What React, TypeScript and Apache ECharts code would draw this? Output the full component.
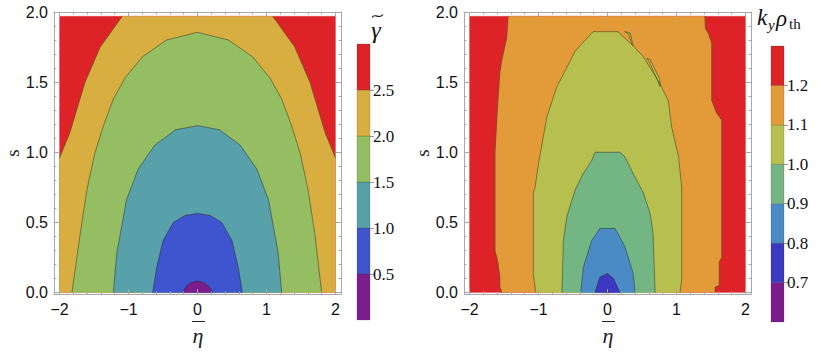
import React, { useEffect, useRef } from 'react';
import * as echarts from 'echarts';

// ---------- tick / legend data ----------
const etaTicks = [-2, -1, 0, 1, 2];
const etaMinorTicks = [-1.8, -1.6, -1.4, -1.2, -0.8, -0.6, -0.4, -0.2, 0.2, 0.4, 0.6, 0.8, 1.2, 1.4, 1.6, 1.8];
const sTicks = [0, 0.5, 1, 1.5, 2];
const sMinorTicks = [0.1, 0.2, 0.3, 0.4, 0.6, 0.7, 0.8, 0.9, 1.1, 1.2, 1.3, 1.4, 1.6, 1.7, 1.8, 1.9];

const gammaLevels = [0.5, 1.0, 1.5, 2.0, 2.5];
const gammaBarRange = [0, 3];
const gammaColors = ['#7b1d8c', '#3f54cf', '#58a0aa', '#95bd62', '#d9ae40', '#dd2327'];

const kyLevels = [0.7, 0.8, 0.9, 1.0, 1.1, 1.2];
const kyBarRange = [0.6, 1.3];
const kyColors = ['#7a1c8b', '#3b38c1', '#4a8ac5', '#74b683', '#b7bf4f', '#e39b3a', '#dd2327'];

// data domain (eta, s)
const domainEta = [-2, 2];
const domainS = [0, 1.97];

// ---------- left panel: gamma~ contours, points [eta, s] ----------
const gammaC25Left = [[-2, 0.96], [-1.85, 1.14], [-1.63, 1.5], [-1.41, 1.75], [-1.09, 1.97]];
const gammaC25Right = [[1.09, 1.97], [1.41, 1.75], [1.63, 1.5], [1.85, 1.14], [2, 0.96]];
const gammaC20 = [[-1.82, 0], [-1.7, 0.42], [-1.6, 0.74], [-1.49, 0.99], [-1.37, 1.18], [-1.22, 1.38], [-1.05, 1.53], [-0.8, 1.68], [-0.45, 1.8], [0, 1.855], [0.45, 1.8], [0.8, 1.68], [1.05, 1.53], [1.22, 1.38], [1.37, 1.18], [1.49, 0.99], [1.6, 0.74], [1.7, 0.42], [1.8, 0]];
const gammaC15 = [[-1.22, 0], [-1.17, 0.28], [-1.03, 0.66], [-0.86, 0.88], [-0.62, 1.05], [-0.32, 1.16], [0, 1.19], [0.32, 1.16], [0.62, 1.05], [0.86, 0.88], [1.03, 0.66], [1.17, 0.28], [1.22, 0]];
const gammaC10 = [[-0.65, 0], [-0.59, 0.18], [-0.5, 0.37], [-0.35, 0.5], [-0.18, 0.55], [0, 0.564], [0.18, 0.55], [0.35, 0.5], [0.5, 0.37], [0.59, 0.18], [0.65, 0]];
const gammaC05 = [[-0.21, 0], [-0.17, 0.04], [-0.1, 0.07], [0, 0.082], [0.1, 0.07], [0.17, 0.04], [0.22, 0]];

// ---------- right panel: k_y rho_th contours ----------
const kyC12Left = [[-1.53, 0], [-1.56, 0.04], [-1.56, 0.11], [-1.59, 0.22], [-1.63, 0.3], [-1.63, 1.0], [-1.6, 1.27], [-1.56, 1.57], [-1.53, 1.66], [-1.46, 1.82], [-1.44, 1.97]];
const kyC12Right = [[1.41, 1.97], [1.42, 1.88], [1.46, 1.85], [1.51, 1.78], [1.51, 1.37], [1.58, 1.28], [1.655, 1.23], [1.655, 0.25], [1.62, 0.22], [1.62, 0.05], [1.56, 0.04], [1.56, 0]];
const kyC11 = [[-1.04, 0], [-1.075, 0.13], [-1.075, 0.71], [-1.05, 0.75], [-1.0, 0.92], [-0.88, 1.25], [-0.74, 1.46], [-0.47, 1.72], [-0.21, 1.86], [0.15, 1.86], [0.37, 1.76], [0.52, 1.68], [0.76, 1.49], [0.88, 1.37], [0.93, 1.18], [1.03, 0.97], [1.075, 0.75], [1.075, 0.09], [1.05, 0]];
const kyC10 = [[-0.66, 0], [-0.64, 0.37], [-0.59, 0.54], [-0.47, 0.73], [-0.35, 0.85], [-0.23, 0.94], [-0.18, 1.0], [0.18, 1.0], [0.25, 0.97], [0.37, 0.85], [0.52, 0.71], [0.62, 0.56], [0.66, 0.42], [0.69, 0]];
const kyC09 = [[-0.39, 0], [-0.35, 0.18], [-0.23, 0.37], [-0.11, 0.457], [0.11, 0.457], [0.25, 0.33], [0.37, 0.14], [0.4, 0]];
const kyC08 = [[-0.18, 0], [-0.11, 0.11], [0, 0.136], [0.085, 0.1], [0.18, 0]];
const kyC07 = [[-0.03, 0], [0, 0.015], [0.03, 0]];
const kySliverA = [[0.25, 1.86], [0.33, 1.85], [0.37, 1.76], [0.35, 1.77], [0.31, 1.84], [0.25, 1.86]];
const kySliverB = [[0.57, 1.67], [0.62, 1.66], [0.76, 1.52], [0.76, 1.47], [0.72, 1.52], [0.6, 1.65], [0.57, 1.67]];

// ---------- layout ----------
const X_MIN = -2.08;
const X_MAX = 2.08;
const Y_MIN = -0.01;
const Y_MAX = 2.0;
const frameColor = '#a8a8a8';
const lineColor = 'rgba(45,40,30,0.6)';
const sansFont = '"Liberation Sans", Arial, sans-serif';
const serifFont = '"Liberation Serif", "Times New Roman", serif';

type Shape = { points: number[][]; fill?: string; stroke?: boolean };

const rectPoly = [
  [domainEta[0], domainS[0]],
  [domainEta[1], domainS[0]],
  [domainEta[1], domainS[1]],
  [domainEta[0], domainS[1]],
];

const leftShapes: Shape[] = [
  { points: rectPoly, fill: gammaColors[5] },
  { points: [[domainEta[0], 0], ...gammaC25Left, ...gammaC25Right, [domainEta[1], 0]], fill: gammaColors[4] },
  { points: gammaC20, fill: gammaColors[3] },
  { points: gammaC15, fill: gammaColors[2] },
  { points: gammaC10, fill: gammaColors[1] },
  { points: gammaC05, fill: gammaColors[0] },
  { points: gammaC25Left, stroke: true },
  { points: gammaC25Right, stroke: true },
  { points: gammaC20, stroke: true },
  { points: gammaC15, stroke: true },
  { points: gammaC10, stroke: true },
  { points: gammaC05, stroke: true },
];

const rightShapes: Shape[] = [
  { points: rectPoly, fill: kyColors[6] },
  { points: [...kyC12Left, ...kyC12Right], fill: kyColors[5] },
  { points: kyC11, fill: kyColors[4] },
  { points: kyC10, fill: kyColors[3] },
  { points: kyC09, fill: kyColors[2] },
  { points: kyC08, fill: kyColors[1] },
  { points: kyC07, fill: kyColors[0] },
  { points: kySliverA, fill: kyColors[4] },
  { points: kySliverB, fill: kyColors[4] },
  { points: kyC12Left, stroke: true },
  { points: kyC12Right, stroke: true },
  { points: kyC11, stroke: true },
  { points: kyC10, stroke: true },
  { points: kyC09, stroke: true },
  { points: kyC08, stroke: true },
  { points: kySliverA, stroke: true },
  { points: kySliverB, stroke: true },
];

const fmtEta = (v: number) => (v < 0 ? '\u2212' + Math.abs(v) : String(v));
const fmt1 = (v: number) => Number(v).toFixed(1);

function frameXAxes(grid: number) {
  const base = {
    type: 'value',
    min: X_MIN,
    max: X_MAX,
    z: 10,
    splitLine: { show: false },
  };
  return [
    {
      ...base,
      gridIndex: grid,
      position: 'bottom',
      axisLine: { show: true, onZero: false, lineStyle: { color: frameColor, width: 1 } },
      axisTick: { show: true, inside: true, length: 5, customValues: etaTicks, lineStyle: { color: frameColor } },
      axisLabel: { show: true, customValues: etaTicks, formatter: fmtEta, color: '#111', fontSize: 16, fontFamily: sansFont, margin: 7 },
    },
    {
      ...base,
      gridIndex: grid,
      position: 'top',
      axisLine: { show: true, onZero: false, lineStyle: { color: frameColor, width: 1 } },
      axisTick: { show: true, inside: true, length: 5, customValues: etaTicks, lineStyle: { color: frameColor } },
      axisLabel: { show: false },
    },
    {
      ...base,
      gridIndex: grid + 1,
      position: 'bottom',
      axisLine: { show: false, onZero: false },
      axisTick: { show: true, inside: true, length: 2.5, customValues: etaMinorTicks, lineStyle: { color: frameColor } },
      axisLabel: { show: false },
    },
    {
      ...base,
      gridIndex: grid + 1,
      position: 'top',
      axisLine: { show: false, onZero: false },
      axisTick: { show: true, inside: true, length: 2.5, customValues: etaMinorTicks, lineStyle: { color: frameColor } },
      axisLabel: { show: false },
    },
  ];
}

function frameYAxes(grid: number) {
  const base = {
    type: 'value',
    min: Y_MIN,
    max: Y_MAX,
    z: 10,
    splitLine: { show: false },
  };
  return [
    {
      ...base,
      gridIndex: grid,
      position: 'left',
      name: 's',
      nameLocation: 'middle',
      nameRotate: 90,
      nameGap: 31,
      nameTextStyle: { fontFamily: serifFont, fontSize: 19, color: '#222' },
      axisLine: { show: true, onZero: false, lineStyle: { color: frameColor, width: 1 } },
      axisTick: { show: true, inside: true, length: 5, customValues: sTicks, lineStyle: { color: frameColor } },
      axisLabel: { show: true, customValues: sTicks, formatter: fmt1, color: '#111', fontSize: 16, fontFamily: sansFont, margin: 6 },
    },
    {
      ...base,
      gridIndex: grid,
      position: 'right',
      axisLine: { show: true, onZero: false, lineStyle: { color: frameColor, width: 1 } },
      axisTick: { show: true, inside: true, length: 5, customValues: sTicks, lineStyle: { color: frameColor } },
      axisLabel: { show: false },
    },
    {
      ...base,
      gridIndex: grid + 1,
      position: 'left',
      axisLine: { show: false, onZero: false },
      axisTick: { show: true, inside: true, length: 2.5, customValues: sMinorTicks, lineStyle: { color: frameColor } },
      axisLabel: { show: false },
    },
    {
      ...base,
      gridIndex: grid + 1,
      position: 'right',
      axisLine: { show: false, onZero: false },
      axisTick: { show: true, inside: true, length: 2.5, customValues: sMinorTicks, lineStyle: { color: frameColor } },
      axisLabel: { show: false },
    },
  ];
}

function contourSeries(shapes: Shape[], axisIndex: number) {
  return {
    type: 'custom',
    coordinateSystem: 'cartesian2d',
    xAxisIndex: axisIndex,
    yAxisIndex: axisIndex,
    silent: true,
    clip: true,
    data: shapes.map((sh) => sh.points[0]),
    renderItem: (params: any, api: any) => {
      const sh = shapes[params.dataIndex];
      const pts = sh.points.map((p) => api.coord(p));
      if (sh.stroke) {
        return {
          type: 'polyline',
          shape: { points: pts },
          style: { stroke: lineColor, lineWidth: 0.8, fill: null },
        };
      }
      return {
        type: 'polygon',
        shape: { points: pts },
        style: { fill: sh.fill, stroke: sh.fill, lineWidth: 0.3 },
      };
    },
  };
}

function barSeries(edges: number[], colors: string[], axisIndex: number) {
  const bands = colors.map((c, i) => [0, edges[i], edges[i + 1], i]);
  return {
    type: 'custom',
    coordinateSystem: 'cartesian2d',
    xAxisIndex: axisIndex,
    yAxisIndex: axisIndex,
    silent: true,
    data: bands,
    renderItem: (params: any, api: any) => {
      const lo = api.value(1);
      const hi = api.value(2);
      const idx = api.value(3);
      const p1 = api.coord([0, hi]);
      const p2 = api.coord([1, lo]);
      return {
        type: 'rect',
        shape: { x: p1[0], y: p1[1], width: p2[0] - p1[0], height: p2[1] - p1[1] },
        style: { fill: colors[idx], stroke: 'rgba(60,50,40,0.35)', lineWidth: 0.6 },
      };
    },
  };
}

function barAxes(grid: number, range: number[], levels: number[]) {
  return {
    x: {
      type: 'value',
      gridIndex: grid,
      min: 0,
      max: 1,
      show: false,
    },
    y: {
      type: 'value',
      gridIndex: grid,
      position: 'right',
      min: range[0],
      max: range[1],
      splitLine: { show: false },
      axisLine: { show: false, onZero: false },
      axisTick: { show: true, inside: false, length: 4, customValues: levels, lineStyle: { color: '#999' } },
      axisLabel: { show: true, customValues: levels, formatter: fmt1, color: '#111', fontSize: 17, fontFamily: serifFont, margin: 3 },
    },
  };
}

const gammaEdges = [gammaBarRange[0], ...gammaLevels, gammaBarRange[1]];
const kyEdges = [kyBarRange[0], ...kyLevels, kyBarRange[1]];

export default function App() {
  const ref = useRef<HTMLDivElement>(null);

  useEffect(() => {
    if (!ref.current) return;
    const chart = echarts.init(ref.current, undefined, { renderer: 'svg' });

    const gBar = barAxes(4, gammaBarRange, gammaLevels);
    const kBar = barAxes(5, kyBarRange, kyLevels);

    const xAxes = [...frameXAxes(0), ...frameXAxes(2), gBar.x, kBar.x];
    const yAxes = [...frameYAxes(0), ...frameYAxes(2), gBar.y, kBar.y];

    const etaLabel = (cx: number) => [
      {
        type: 'text',
        x: cx,
        y: 335,
        style: { text: 'η', font: `italic 22px ${serifFont}`, fill: '#222', align: 'center', verticalAlign: 'middle' },
      },
      {
        type: 'line',
        shape: { x1: cx - 6, y1: 321.5, x2: cx + 7, y2: 321.5 },
        style: { stroke: '#222', lineWidth: 1 },
      },
    ];

    chart.setOption({
      animation: false,
      backgroundColor: '#ffffff',
      grid: [
        { left: 54, top: 12, width: 287, height: 282 },
        { left: 54, top: 12, width: 287, height: 282 },
        { left: 464, top: 12, width: 287, height: 282 },
        { left: 464, top: 12, width: 287, height: 282 },
        { left: 357, top: 44, width: 13, height: 276 },
        { left: 771, top: 46, width: 13, height: 276 },
      ],
      xAxis: xAxes,
      yAxis: yAxes,
      series: [
        contourSeries(leftShapes, 0),
        contourSeries(rightShapes, 4),
        barSeries(gammaEdges, gammaColors, 8),
        barSeries(kyEdges, kyColors, 9),
      ],
      graphic: [
        ...etaLabel(198),
        ...etaLabel(608),
        {
          type: 'text',
          x: 376,
          y: 30,
          style: { text: 'γ', font: `italic 24px ${serifFont}`, fill: '#111', align: 'center', verticalAlign: 'middle' },
        },
        {
          type: 'bezierCurve',
          shape: { x1: 372, y1: 17.5, cpx1: 375, cpy1: 12.5, cpx2: 379, cpy2: 20, x2: 383, y2: 14.5 },
          style: { stroke: '#111', lineWidth: 1.1, fill: null },
        },
        {
          type: 'text',
          x: 757,
          y: 17,
          style: { text: 'k', font: `italic 23px ${serifFont}`, fill: '#111', align: 'left', verticalAlign: 'middle' },
        },
        {
          type: 'text',
          x: 768,
          y: 25,
          style: { text: 'y', font: `italic 15px ${serifFont}`, fill: '#111', align: 'left', verticalAlign: 'middle' },
        },
        {
          type: 'text',
          x: 776,
          y: 18,
          style: { text: 'ρ', font: `italic 23px ${serifFont}`, fill: '#111', align: 'left', verticalAlign: 'middle' },
        },
        {
          type: 'text',
          x: 789,
          y: 24,
          style: { text: 'th', font: `15px ${serifFont}`, fill: '#111', align: 'left', verticalAlign: 'middle' },
        },
      ],
    });

    return () => chart.dispose();
  }, []);

  return (
    <div
      ref={ref}
      style={{ position: 'fixed', left: 0, top: 0, width: 822, height: 352, background: '#fff' }}
    />
  );
}
